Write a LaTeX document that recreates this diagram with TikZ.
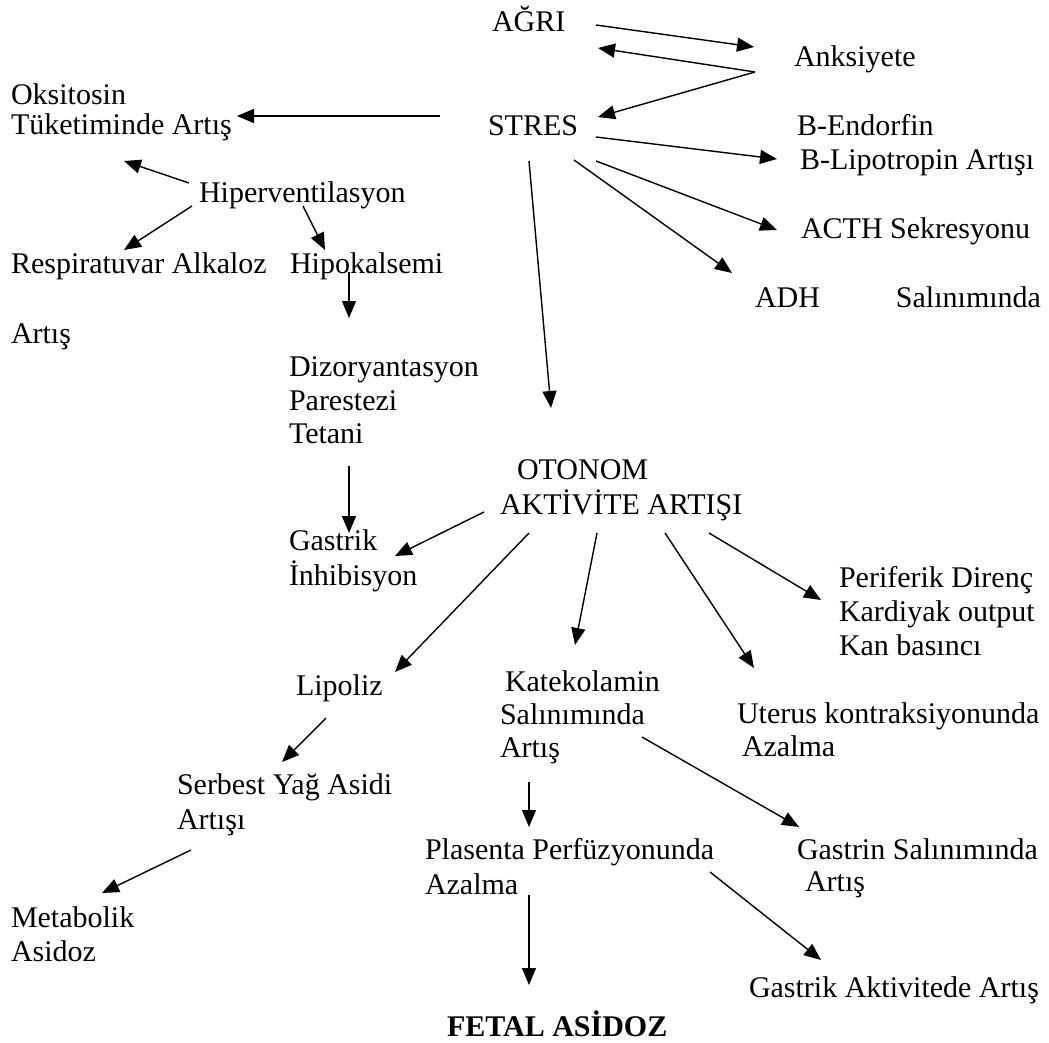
\documentclass[tikz,border=0pt]{standalone}
\usepackage{fontspec}
\setmainfont{Liberation Serif}
\usetikzlibrary{arrows.meta}
\begin{document}
\begin{tikzpicture}[x=1pt,y=-1pt,
  txt/.style={anchor=base west, inner sep=0pt, outer sep=0pt, font=\fontsize{30}{34.5}\selectfont},
  arr/.style={line width=1.4pt, -{Triangle[length=17pt,width=14pt]}}]
\fill[white] (0,0) rectangle (1049,1043);
\useasboundingbox (0,0) rectangle (1049,1043);
% texts
\node[txt] (agri) at (492,32) {AĞRI};
\node[txt] (anks) at (794,67) {Anksiyete};
\node[txt] (stres) at (488,136) {STRES};
\node[txt] (oks1) at (11,105) {Oksitosin};
\node[txt] (oks2) at (11,135) {Tüketiminde Artış};
\node[txt] (bend) at (797,136) {B-Endorfin};
\node[txt] (blip) at (800,170) {B-Lipotropin Artışı};
\node[txt] (hiper) at (199,203) {Hiperventilasyon};
\node[txt] (acth) at (801,238) {ACTH Sekresyonu};
\node[txt] (resp) at (11,273) {Respiratuvar Alkaloz};
\node[txt] (hipok) at (290,273) {Hipokalsemi};
\node[txt] (adh) at (755,307) {ADH\hspace{76pt}Salınımında};
\node[txt] (artis1) at (11,343) {Artış};
\node[txt] (diz1) at (289,376) {Dizoryantasyon};
\node[txt] (diz2) at (289,410) {Parestezi};
\node[txt] (diz3) at (289,443) {Tetani};
\node[txt] (oto1) at (517,479) {OTONOM};
\node[txt] (oto2) at (500,514) {AKTİVİTE ARTIŞI};
\node[txt] (gas1) at (289,550) {Gastrik};
\node[txt] (gas2) at (289,585) {İnhibisyon};
\node[txt] (per1) at (839,587) {Periferik Direnç};
\node[txt] (per2) at (839,621) {Kardiyak output};
\node[txt] (per3) at (839,655) {Kan basıncı};
\node[txt] (lip) at (296,695) {Lipoliz};
\node[txt] (kat1) at (505,691) {Katekolamin};
\node[txt] (kat2) at (500,724) {Salınımında};
\node[txt] (kat3) at (500,757) {Artış};
\node[txt] (ute1) at (737,723) {Uterus kontraksiyonunda};
\node[txt] (ute2) at (742,756) {Azalma};
\node[txt] (ser1) at (177,794) {Serbest Yağ Asidi};
\node[txt] (ser2) at (177,829) {Artışı};
\node[txt] (pla1) at (425,859) {Plasenta Perfüzyonunda};
\node[txt] (pla2) at (425,894) {Azalma};
\node[txt] (gtr1) at (797,859) {Gastrin Salınımında};
\node[txt] (gtr2) at (805,891) {Artış};
\node[txt] (met1) at (11,927) {Metabolik};
\node[txt] (met2) at (11,961) {Asidoz};
\node[txt] (gakt) at (749,997) {Gastrik Aktivitede Artış};
\node[txt, font=\fontsize{30}{34.5}\selectfont\bfseries] (fetal) at (447,1036) {FETAL ASİDOZ};
% connector end points
\coordinate (agriA) at (596,25);   \coordinate (anksA) at (754,47);
\coordinate (anksO) at (755,72);   \coordinate (agriB) at (598,48);
\coordinate (stresB) at (598,117);
\coordinate (stresW) at (440,116); \coordinate (oksE) at (237,116);
\coordinate (stresE1) at (596,137); \coordinate (blipW) at (777,159);
\coordinate (stresE2) at (596,161); \coordinate (acthW) at (777,230);
\coordinate (stresE3) at (574,160); \coordinate (adhN) at (732,273);
\coordinate (stresS) at (529,161); \coordinate (otoN) at (551,408);
\coordinate (hiperW1) at (189,183); \coordinate (oksS) at (124,161);
\coordinate (hiperW2) at (192,206); \coordinate (respN) at (124,250);
\coordinate (hiperS) at (303,206); \coordinate (hipokN) at (325,250);
\coordinate (hipokS) at (349,272); \coordinate (dizN) at (349,318);
\coordinate (dizS) at (349,466); \coordinate (gasN) at (349,533);
\coordinate (otoW) at (484,512); \coordinate (gasE) at (395,556);
\coordinate (otoS1) at (529,533); \coordinate (lipN) at (395,672);
\coordinate (otoS2) at (597,533); \coordinate (katN) at (575,645);
\coordinate (otoS3) at (665,533); \coordinate (uteN) at (754,668);
\coordinate (otoS4) at (709,533); \coordinate (perW) at (821,600);
\coordinate (lipS) at (326,718); \coordinate (serN) at (282,762);
\coordinate (serS) at (191,850); \coordinate (metN) at (102,893);
\coordinate (katE) at (642,737); \coordinate (gtrN) at (799,827);
\coordinate (katS) at (529,782); \coordinate (plaN) at (529,827);
\coordinate (plaS) at (529,895); \coordinate (fetalN) at (529,985);
\coordinate (plaE) at (710,872); \coordinate (gaktN) at (821,960);
% connectors
\draw[arr] (agriA) -- (anksA);
\draw[arr] (anksO) -- (agriB);
\draw[arr] (anksO) -- (stresB);
\draw[arr] (stresW) -- (oksE);
\draw[arr] (stresE1) -- (blipW);
\draw[arr] (stresE2) -- (acthW);
\draw[arr] (stresE3) -- (adhN);
\draw[arr] (stresS) -- (otoN);
\draw[arr] (hiperW1) -- (oksS);
\draw[arr] (hiperW2) -- (respN);
\draw[arr] (hiperS) -- (hipokN);
\draw[arr] (hipokS) -- (dizN);
\draw[arr] (dizS) -- (gasN);
\draw[arr] (otoW) -- (gasE);
\draw[arr] (otoS1) -- (lipN);
\draw[arr] (otoS2) -- (katN);
\draw[arr] (otoS3) -- (uteN);
\draw[arr] (otoS4) -- (perW);
\draw[arr] (lipS) -- (serN);
\draw[arr] (serS) -- (metN);
\draw[arr] (katE) -- (gtrN);
\draw[arr] (katS) -- (plaN);
\draw[arr] (plaS) -- (fetalN);
\draw[arr] (plaE) -- (gaktN);
\end{tikzpicture}
\end{document}
